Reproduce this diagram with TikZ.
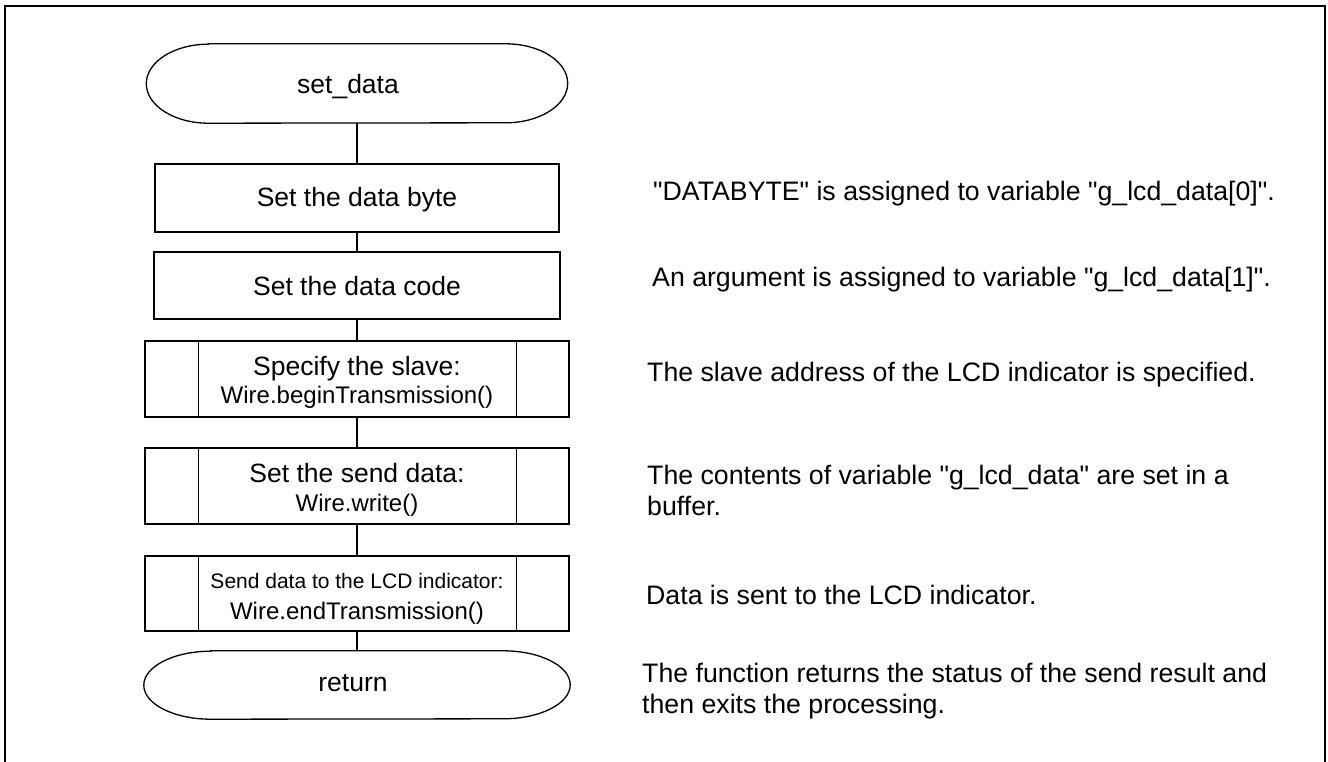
\documentclass[tikz,border=0pt]{standalone}
\usepackage{fontspec}
\setmainfont{Liberation Sans}
\begin{document}
\begin{tikzpicture}[x=1pt,y=1pt,
  shapeline/.style={line width=1.3pt},
  termbox/.style={minimum width=#1, inner sep=0pt, text depth=0pt, font=\fontsize{26.5}{30}\selectfont},
  procbox/.style={draw, shapeline, inner sep=0pt, text depth=0pt, minimum width=#1, align=center, font=\fontsize{26.5}{30}\selectfont},
  note/.style={anchor=base west, inner sep=0pt, align=left, font=\fontsize{26.7}{31}\selectfont},
  conn/.style={shapeline}
]
\useasboundingbox (0,0) rectangle (1328,-762);
\draw[line width=2pt] (5,-762) -- (5,-6) -- (1325,-6) -- (1325,-762);

% start terminal
\node[termbox=421pt, minimum height=79pt, text height=21pt] (start) at (357,-83.5) {set\_data\kern18pt};
\draw[shapeline] ([xshift=62pt]start.north west) -- ([xshift=-62pt]start.north east)
  arc[start angle=90, end angle=-90, x radius=62pt, y radius=39.5pt]
  -- ([xshift=62pt]start.south west)
  arc[start angle=270, end angle=90, x radius=62pt, y radius=39.5pt] -- cycle;

\node[procbox=404pt, minimum height=68pt, text height=18pt] (b1) at (357,-198) {Set the data byte};
\node[procbox=406pt, minimum height=67pt, text height=19pt] (b2) at (357,-285.5) {Set the data code};

\node[procbox=424pt, minimum height=76pt, text height=48pt] (b3) at (357,-379)
  {Specify the slave:\\[-2pt]{\fontsize{24}{28}\selectfont Wire.beginTransmission()}};
\node[procbox=424pt, minimum height=76pt, text height=50pt] (b4) at (357,-486)
  {Set the send data:\\[-1pt]{\fontsize{24}{28}\selectfont Wire.write()}};
\node[procbox=424pt, minimum height=75pt, text height=52pt] (b5) at (357,-593.5)
  {{\fontsize{21}{25}\selectfont Send data to the LCD indicator:}\\[1.5pt]{\fontsize{24}{28}\selectfont Wire.endTransmission()}};
\foreach \b in {b3,b4,b5}{
  \draw[shapeline] ([xshift=54pt]\b.north west) -- ([xshift=54pt]\b.south west);
  \draw[shapeline] ([xshift=-53pt]\b.north east) -- ([xshift=-53pt]\b.south east);
}

% return terminal
\node[termbox=426pt, minimum height=68pt, text height=13pt] (ret) at (357,-685) {return\kern8pt};
\draw[shapeline] ([xshift=67pt]ret.north west) -- ([xshift=-67pt]ret.north east)
  arc[start angle=90, end angle=-90, x radius=67pt, y radius=34pt]
  -- ([xshift=67pt]ret.south west)
  arc[start angle=270, end angle=90, x radius=67pt, y radius=34pt] -- cycle;

% connectors
\draw[conn] (start.south) -- (b1.north);
\draw[conn] (b1.south) -- (b2.north);
\draw[conn] (b2.south) -- (b3.north);
\draw[conn] (b3.south) -- (b4.north);
\draw[conn] (b4.south) -- (b5.north);
\draw[conn] (b5.south) -- (ret.north);

% notes
\node[note] (n1) at (653,-201) {\textquotedbl DATABYTE\textquotedbl\ is assigned to variable \textquotedbl g\_lcd\_data[0]\textquotedbl.};
\node[note] (n2) at (652,-287) {An argument is assigned to variable \textquotedbl g\_lcd\_data[1]\textquotedbl.};
\node[note] (n3) at (647,-381) {The slave address of the LCD indicator is specified.};
\node[note] (n4) at (647,-515) {The contents of variable \textquotedbl g\_lcd\_data\textquotedbl\ are set in a\\buffer.};
\node[note] (n5) at (646,-604) {Data is sent to the LCD indicator.};
\node[note] (n6) at (642,-713) {The function returns the status of the send result and\\then exits the processing.};
\end{tikzpicture}
\end{document}
